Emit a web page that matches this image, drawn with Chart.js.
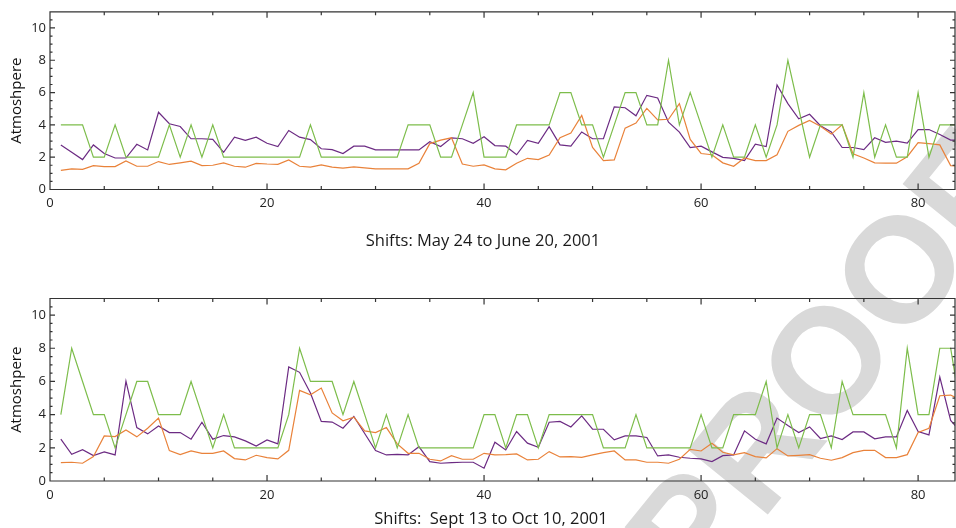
<!DOCTYPE html>
<html>
<head>
<meta charset="utf-8">
<script src="https://cdn.jsdelivr.net/npm/chart.js@4.4.1/dist/chart.umd.min.js"></script>
<style>
  body { margin: 0; background: #fff; }
  #wrap { position: relative; width: 956px; height: 528px; overflow: hidden; font-family: "Open Sans", sans-serif; }
  .proof { position: absolute; left: 826px; top: 360px; transform: translate(-50%, -50%) rotate(-51deg);
           font: bold 150px "Liberation Sans", sans-serif; color: #d9d9d9; line-height: 1; white-space: nowrap; z-index: 0; }
  canvas { position: absolute; left: 0; z-index: 1; }
  .xtitle { position: absolute; z-index: 2; font-size: 16.5px; color: #1a1a1a; white-space: nowrap; transform: translate(-50%, -50%); }
</style>
</head>
<body>
<div id="wrap">
  <div class="proof">PROOF</div>
  <canvas id="top" width="956" height="264" style="top:0"></canvas>
  <canvas id="bottom" width="956" height="264" style="top:264px"></canvas>
  <div class="xtitle" style="left:483px; top:239px">Shifts: May 24 to June 20, 2001</div>
  <div class="xtitle" style="left:491px; top:517px">Shifts:&nbsp; Sept 13 to Oct 10, 2001</div>
</div>
<script>
// shift number on the x axis
const shifts = [1, 2, 3, 4, 5, 6, 7, 8, 9, 10, 11, 12, 13, 14, 15, 16, 17, 18, 19, 20,
  21, 22, 23, 24, 25, 26, 27, 28, 29, 30, 31, 32, 33, 34, 35, 36, 37, 38, 39, 40,
  41, 42, 43, 44, 45, 46, 47, 48, 49, 50, 51, 52, 53, 54, 55, 56, 57, 58, 59, 60,
  61, 62, 63, 64, 65, 66, 67, 68, 69, 70, 71, 72, 73, 74, 75, 76, 77, 78, 79, 80,
  81, 82, 83, 84];

// May 24 to June 20
const mayGreen = [4, 4, 4, 2, 2, 4, 2, 2, 2, 2, 4, 2, 4, 2, 4, 2, 2, 2, 2, 2,
  2, 2, 2, 4, 2, 2, 2, 2, 2, 2, 2, 2, 4, 4, 4, 2, 2, 4, 6, 2,
  2, 2, 4, 4, 4, 4, 6, 6, 4, 4, 2, 4, 6, 6, 4, 4, 8, 4, 6, 4,
  2, 4, 2, 2, 4, 2, 4, 8, 5, 2, 4, 4, 4, 2, 6, 2, 4, 2, 2, 6,
  2, 4, 4, 4];
const mayPurple = [2.76, 2.3, 1.85, 2.76, 2.23, 1.95, 1.95, 2.8, 2.45, 4.78,
  4.07, 3.9, 3.14, 3.14, 3.1, 2.3, 3.24, 3.04, 3.24, 2.86,
  2.66, 3.65, 3.24, 3.09, 2.52, 2.47, 2.23, 2.68, 2.68, 2.45,
  2.45, 2.45, 2.45, 2.45, 2.96, 2.66, 3.2, 3.14, 2.86, 3.26,
  2.72, 2.68, 2.15, 3.04, 2.86, 3.89, 2.76, 2.68, 3.56, 3.14,
  3.14, 5.12, 5.06, 4.56, 5.83, 5.67, 4.17, 3.55, 2.6, 2.68,
  2.33, 1.99, 1.93, 1.79, 2.8, 2.66, 6.47, 5.32, 4.38, 4.66,
  3.95, 3.56, 2.6, 2.6, 2.47, 3.2, 2.92, 2.99, 2.87, 3.71,
  3.71, 3.4, 3.06, 3.06];
const mayOrange = [1.18, 1.28, 1.25, 1.48, 1.42, 1.42, 1.77, 1.44, 1.44, 1.73,
  1.55, 1.65, 1.75, 1.48, 1.5, 1.65, 1.44, 1.38, 1.62, 1.58,
  1.56, 1.83, 1.44, 1.38, 1.52, 1.38, 1.32, 1.4, 1.34, 1.28,
  1.28, 1.28, 1.28, 1.62, 2.84, 3.06, 3.2, 1.58, 1.44, 1.52,
  1.28, 1.22, 1.62, 1.93, 1.85, 2.13, 3.2, 3.5, 4.58, 2.6,
  1.79, 1.83, 3.8, 4.11, 5.02, 4.31, 4.35, 5.32, 3.1, 2.23,
  2.15, 1.65, 1.44, 1.95, 1.79, 1.79, 2.15, 3.6, 3.97, 4.27,
  3.91, 3.43, 4.0, 2.21, 1.95, 1.65, 1.63, 1.63, 2.03, 2.9,
  2.84, 2.76, 1.48, 1.45];

// Sept 13 to Oct 10
const sepGreen = [4, 8, 6, 4, 4, 2, 4, 6, 6, 4, 4, 4, 6, 4, 2, 4, 2, 2, 2, 2,
  2, 4, 8, 6, 6, 6, 4, 6, 4, 2, 4, 2, 4, 2, 2, 2, 2, 2, 2, 4,
  4, 2, 4, 4, 2, 4, 4, 4, 4, 4, 2, 2, 2, 4, 2, 2, 2, 2, 2, 4,
  2, 2, 4, 4, 4, 6, 2, 4, 2, 4, 4, 2, 6, 4, 4, 4, 4, 2, 8, 4,
  4, 8, 8, 4];
const sepPurple = [2.52, 1.61, 1.89, 1.53, 1.75, 1.57, 6.02, 3.22, 2.84, 3.32,
  2.92, 2.92, 2.52, 3.54, 2.52, 2.74, 2.66, 2.42, 2.11, 2.48,
  2.24, 6.87, 6.55, 5.3, 3.59, 3.55, 3.18, 3.89, 2.86, 1.83,
  1.57, 1.61, 1.57, 2.07, 1.17, 1.07, 1.11, 1.13, 1.13, 0.77,
  2.34, 1.87, 2.98, 2.28, 2.03, 3.54, 3.59, 3.26, 3.93, 3.12,
  3.12, 2.48, 2.72, 2.72, 2.62, 1.51, 1.57, 1.43, 1.37, 1.33,
  1.17, 1.53, 1.57, 3.02, 2.52, 2.24, 3.79, 3.34, 2.92, 3.26,
  2.56, 2.72, 2.5, 2.96, 2.96, 2.54, 2.66, 2.66, 4.25, 2.98,
  2.78, 6.26, 3.65, 2.9];
const sepOrange = [1.11, 1.13, 1.07, 1.47, 2.72, 2.68, 3.08, 2.66, 3.18, 3.79,
  1.83, 1.59, 1.81, 1.67, 1.67, 1.81, 1.35, 1.27, 1.55, 1.41,
  1.33, 1.85, 5.46, 5.2, 5.6, 4.1, 3.63, 3.85, 3.02, 2.92,
  3.22, 2.24, 1.67, 1.67, 1.31, 1.21, 1.53, 1.31, 1.31, 1.67,
  1.57, 1.59, 1.63, 1.27, 1.31, 1.77, 1.45, 1.47, 1.43, 1.57,
  1.71, 1.81, 1.27, 1.27, 1.13, 1.13, 1.07, 1.31, 1.91, 1.81,
  2.28, 1.73, 1.57, 1.71, 1.47, 1.39, 1.95, 1.51, 1.55, 1.59,
  1.37, 1.25, 1.41, 1.71, 1.85, 1.85, 1.41, 1.41, 1.59, 2.92,
  3.18, 5.14, 5.18, 4.85];

const green = "#7dbd4b";
const purple = "#6c2b83";
const orange = "#e9823a";

// box round the plot with inward ticks, like the original
const boxTicks = {
  id: "boxTicks",
  afterDatasetsDraw(chart) {
    const { ctx, chartArea: a, scales: { x, y } } = chart;
    ctx.save();
    ctx.strokeStyle = "#333";
    ctx.lineWidth = 1.2;
    ctx.beginPath();
    ctx.rect(a.left, a.top, a.right - a.left, a.bottom - a.top);
    for (let v = 0; v <= y.max; v += 0.5) {
      const p = y.getPixelForValue(v);
      const len = (v % 2 === 0 && v <= 10) ? 5 : 2.5;
      ctx.moveTo(a.left, p); ctx.lineTo(a.left + len, p);
      ctx.moveTo(a.right, p); ctx.lineTo(a.right - len, p);
    }
    for (let v = 0; v <= x.max; v += 5) {
      const p = x.getPixelForValue(v);
      const len = v % 20 === 0 ? 6 : 3.5;
      ctx.moveTo(p, a.bottom); ctx.lineTo(p, a.bottom - len);
      ctx.moveTo(p, a.top); ctx.lineTo(p, a.top + len);
    }
    ctx.stroke();
    ctx.restore();
  }
};

function makeChart(id, g, p, o, padTop, xHeight) {
  const line = (data, color) => ({
    data: shifts.map((s, i) => ({ x: s, y: data[i] })),
    borderColor: color,
    borderWidth: 1.2,
    pointRadius: 0,
    tension: 0,
    fill: false,
  });
  return new Chart(document.getElementById(id), {
    type: "line",
    data: { datasets: [line(g, green), line(o, orange), line(p, purple)] },
    options: {
      responsive: false,
      animation: false,
      layout: { padding: { top: padTop, right: 1, left: 0, bottom: 0 } },
      plugins: { legend: { display: false }, tooltip: { enabled: false } },
      scales: {
        x: {
          type: "linear",
          min: 0,
          max: 83.4,
          grid: { display: false, drawTicks: false },
          border: { display: false },
          ticks: { stepSize: 20, includeBounds: false, padding: 6, maxRotation: 0,
                   color: "#222", font: { family: "Open Sans", size: 13 } },
          afterFit: (s) => { s.height = xHeight; },
        },
        y: {
          min: 0,
          max: 11,
          grid: { display: false, drawTicks: false },
          border: { display: false },
          ticks: { stepSize: 2, includeBounds: false, padding: 4,
                   color: "#222", font: { family: "Open Sans", size: 13 } },
          title: { display: true, text: "Atmoshpere", color: "#111",
                   padding: { top: 8, bottom: 0 },
                   font: { family: "Open Sans", size: 15 } },
          afterFit: (s) => { s.width = 50; },
        },
      },
    },
    plugins: [boxTicks],
  });
}

makeChart("top", mayGreen, mayPurple, mayOrange, 7.5, 74.5);
makeChart("bottom", sepGreen, sepPurple, sepOrange, 34.5, 47);
</script>
</body>
</html>
